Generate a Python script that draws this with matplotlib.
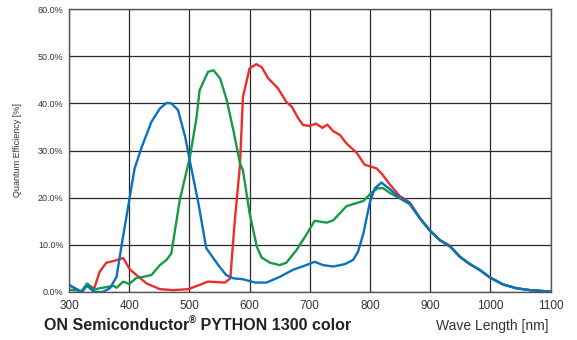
import numpy as np
import matplotlib.pyplot as plt
from matplotlib.ticker import FuncFormatter

plt.rcParams['font.family'] = ['Liberation Sans', 'DejaVu Sans']

# Данные кривых квантовой эффективности (длина волны, нм -> QE, %)
red_wl = [300, 321, 330, 342, 351, 362, 375, 390, 401, 412, 429, 451, 473, 498, 517,
          531, 545, 559, 568, 575, 584, 589, 600, 611, 620, 631, 647, 661, 670, 681,
          689, 700, 710, 721, 729, 739, 750, 761, 778, 791, 811, 820, 833, 849, 866, 883,
          899, 916, 933, 949, 966, 982, 999, 1021, 1043, 1065, 1098]
red_qe = [1.5, 0.0, 1.5, 0.8, 4.3, 6.2, 6.6, 7.2, 4.8, 3.6, 1.8, 0.6, 0.4, 0.6, 1.5,
          2.2, 2.1, 2.0, 2.9, 14.5, 26.9, 41.4, 47.4, 48.3, 47.7, 45.3, 43.2, 40.3, 39.3, 36.8,
          35.4, 35.2, 35.7, 34.8, 35.5, 34.1, 33.3, 31.5, 29.5, 27.0, 26.2, 25.0, 22.8, 20.4, 19.0, 15.7,
          13.1, 11.0, 9.8, 7.5, 5.9, 4.7, 3.1, 1.6, 0.8, 0.4, 0.1]

green_wl = [300, 321, 330, 342, 351, 374, 379, 390, 400, 412, 423, 437, 451, 462, 470,
            484, 501, 512, 517, 531, 540, 551, 562, 573, 584, 589, 600, 612, 620, 634, 650,
            661, 678, 694, 708, 728, 739, 761, 789, 802, 813, 822, 833, 849, 866, 883, 899,
            916, 933, 949, 966, 982, 999, 1021, 1043, 1065, 1098]
green_qe = [0.5, 0.2, 1.8, 0.5, 0.8, 1.3, 0.9, 2.2, 1.7, 3.0, 3.2, 3.6, 5.7, 6.8, 8.2,
            19.5, 28.7, 37.1, 42.8, 46.7, 47.0, 45.3, 40.7, 34.3, 27.3, 25.8, 16.7, 9.6, 7.3, 6.2, 5.7,
            6.2, 8.9, 12.1, 15.1, 14.7, 15.2, 18.2, 19.3, 21.0, 22.0, 22.0, 21.0, 19.9, 18.6, 15.6, 13.1,
            11.0, 9.6, 7.5, 5.9, 4.7, 3.1, 1.6, 0.8, 0.4, 0.1]

blue_wl = [300, 321, 330, 342, 356, 368, 379, 387, 401, 409, 421, 437, 451, 462, 470,
           481, 493, 501, 515, 528, 548, 561, 573, 589, 609, 628, 650, 672, 694, 708, 722, 739,
           758, 772, 780, 789, 800, 808, 819, 833, 849, 866, 883, 899, 916, 933, 949, 966,
           982, 999, 1021, 1043, 1065, 1098]
blue_qe = [1.5, 0.0, 1.3, 0.0, 0.0, 0.8, 3.2, 9.6, 20.2, 26.2, 30.8, 36.1, 38.9, 40.1, 40.0,
           38.6, 32.9, 27.6, 18.8, 9.3, 5.7, 3.6, 2.9, 2.7, 2.0, 2.0, 3.2, 4.7, 5.7, 6.4, 5.7, 5.4,
           5.9, 6.8, 8.5, 12.4, 19.1, 22.0, 23.2, 21.8, 20.0, 18.8, 15.6, 13.1, 11.0, 9.7, 7.5, 5.9,
           4.7, 3.1, 1.6, 0.8, 0.4, 0.1]

x_ticks = [300, 400, 500, 600, 700, 800, 900, 1000, 1100]
y_ticks = [0, 10, 20, 30, 40, 50, 60]

fig = plt.figure(figsize=(5.77, 3.4), dpi=100)
ax = fig.add_axes([0.1196, 0.1412, 0.8346, 0.8323])

ax.plot(red_wl, red_qe, color='#ee2c2c', lw=1.7)
ax.plot(green_wl, green_qe, color='#179a45', lw=1.7)
ax.plot(blue_wl, blue_qe, color='#0a72bd', lw=1.7)

ax.set_xlim(300, 1100)
ax.set_ylim(0, 60)
ax.set_xticks(x_ticks)
ax.set_yticks(y_ticks)
ax.yaxis.set_major_formatter(FuncFormatter(lambda v, p: f'{v:.1f}%'))
ax.grid(True, color='#2a2a2a', lw=0.9)
ax.set_axisbelow(True)
ax.tick_params(length=0, colors='#333333')
ax.tick_params(axis='x', labelsize=8.5, pad=6)
ax.tick_params(axis='y', labelsize=6.5, pad=4)
for s in ax.spines.values():
    s.set_color('#555555')
    s.set_linewidth(1.0)

fig.text(18 / 577, 1 - 150 / 340, 'Quantum Efficiency [%]', rotation=90,
         fontsize=6.5, color='#333333', ha='center', va='center')
fig.text(548 / 577, 1 - 326 / 340, 'Wave Length [nm]', fontsize=10,
         color='#333333', ha='right', va='center')

# Заголовок с надстрочным знаком ®
r = fig.canvas.get_renderer()
t1 = fig.text(44 / 577, 1 - 326 / 340, 'ON Semiconductor', fontsize=11.5,
              fontweight='bold', color='#222222', va='center')
bb = t1.get_window_extent(r)
x1 = bb.x1 / fig.bbox.width
t2 = fig.text(x1, 1 - 321 / 340, '®', fontsize=7, fontweight='bold',
              color='#222222', va='center')
bb2 = t2.get_window_extent(r)
x2 = bb2.x1 / fig.bbox.width
fig.text(x2, 1 - 326 / 340, ' PYTHON 1300 color', fontsize=11.5,
         fontweight='bold', color='#222222', va='center')

fig.savefig('out.png', dpi=100)
